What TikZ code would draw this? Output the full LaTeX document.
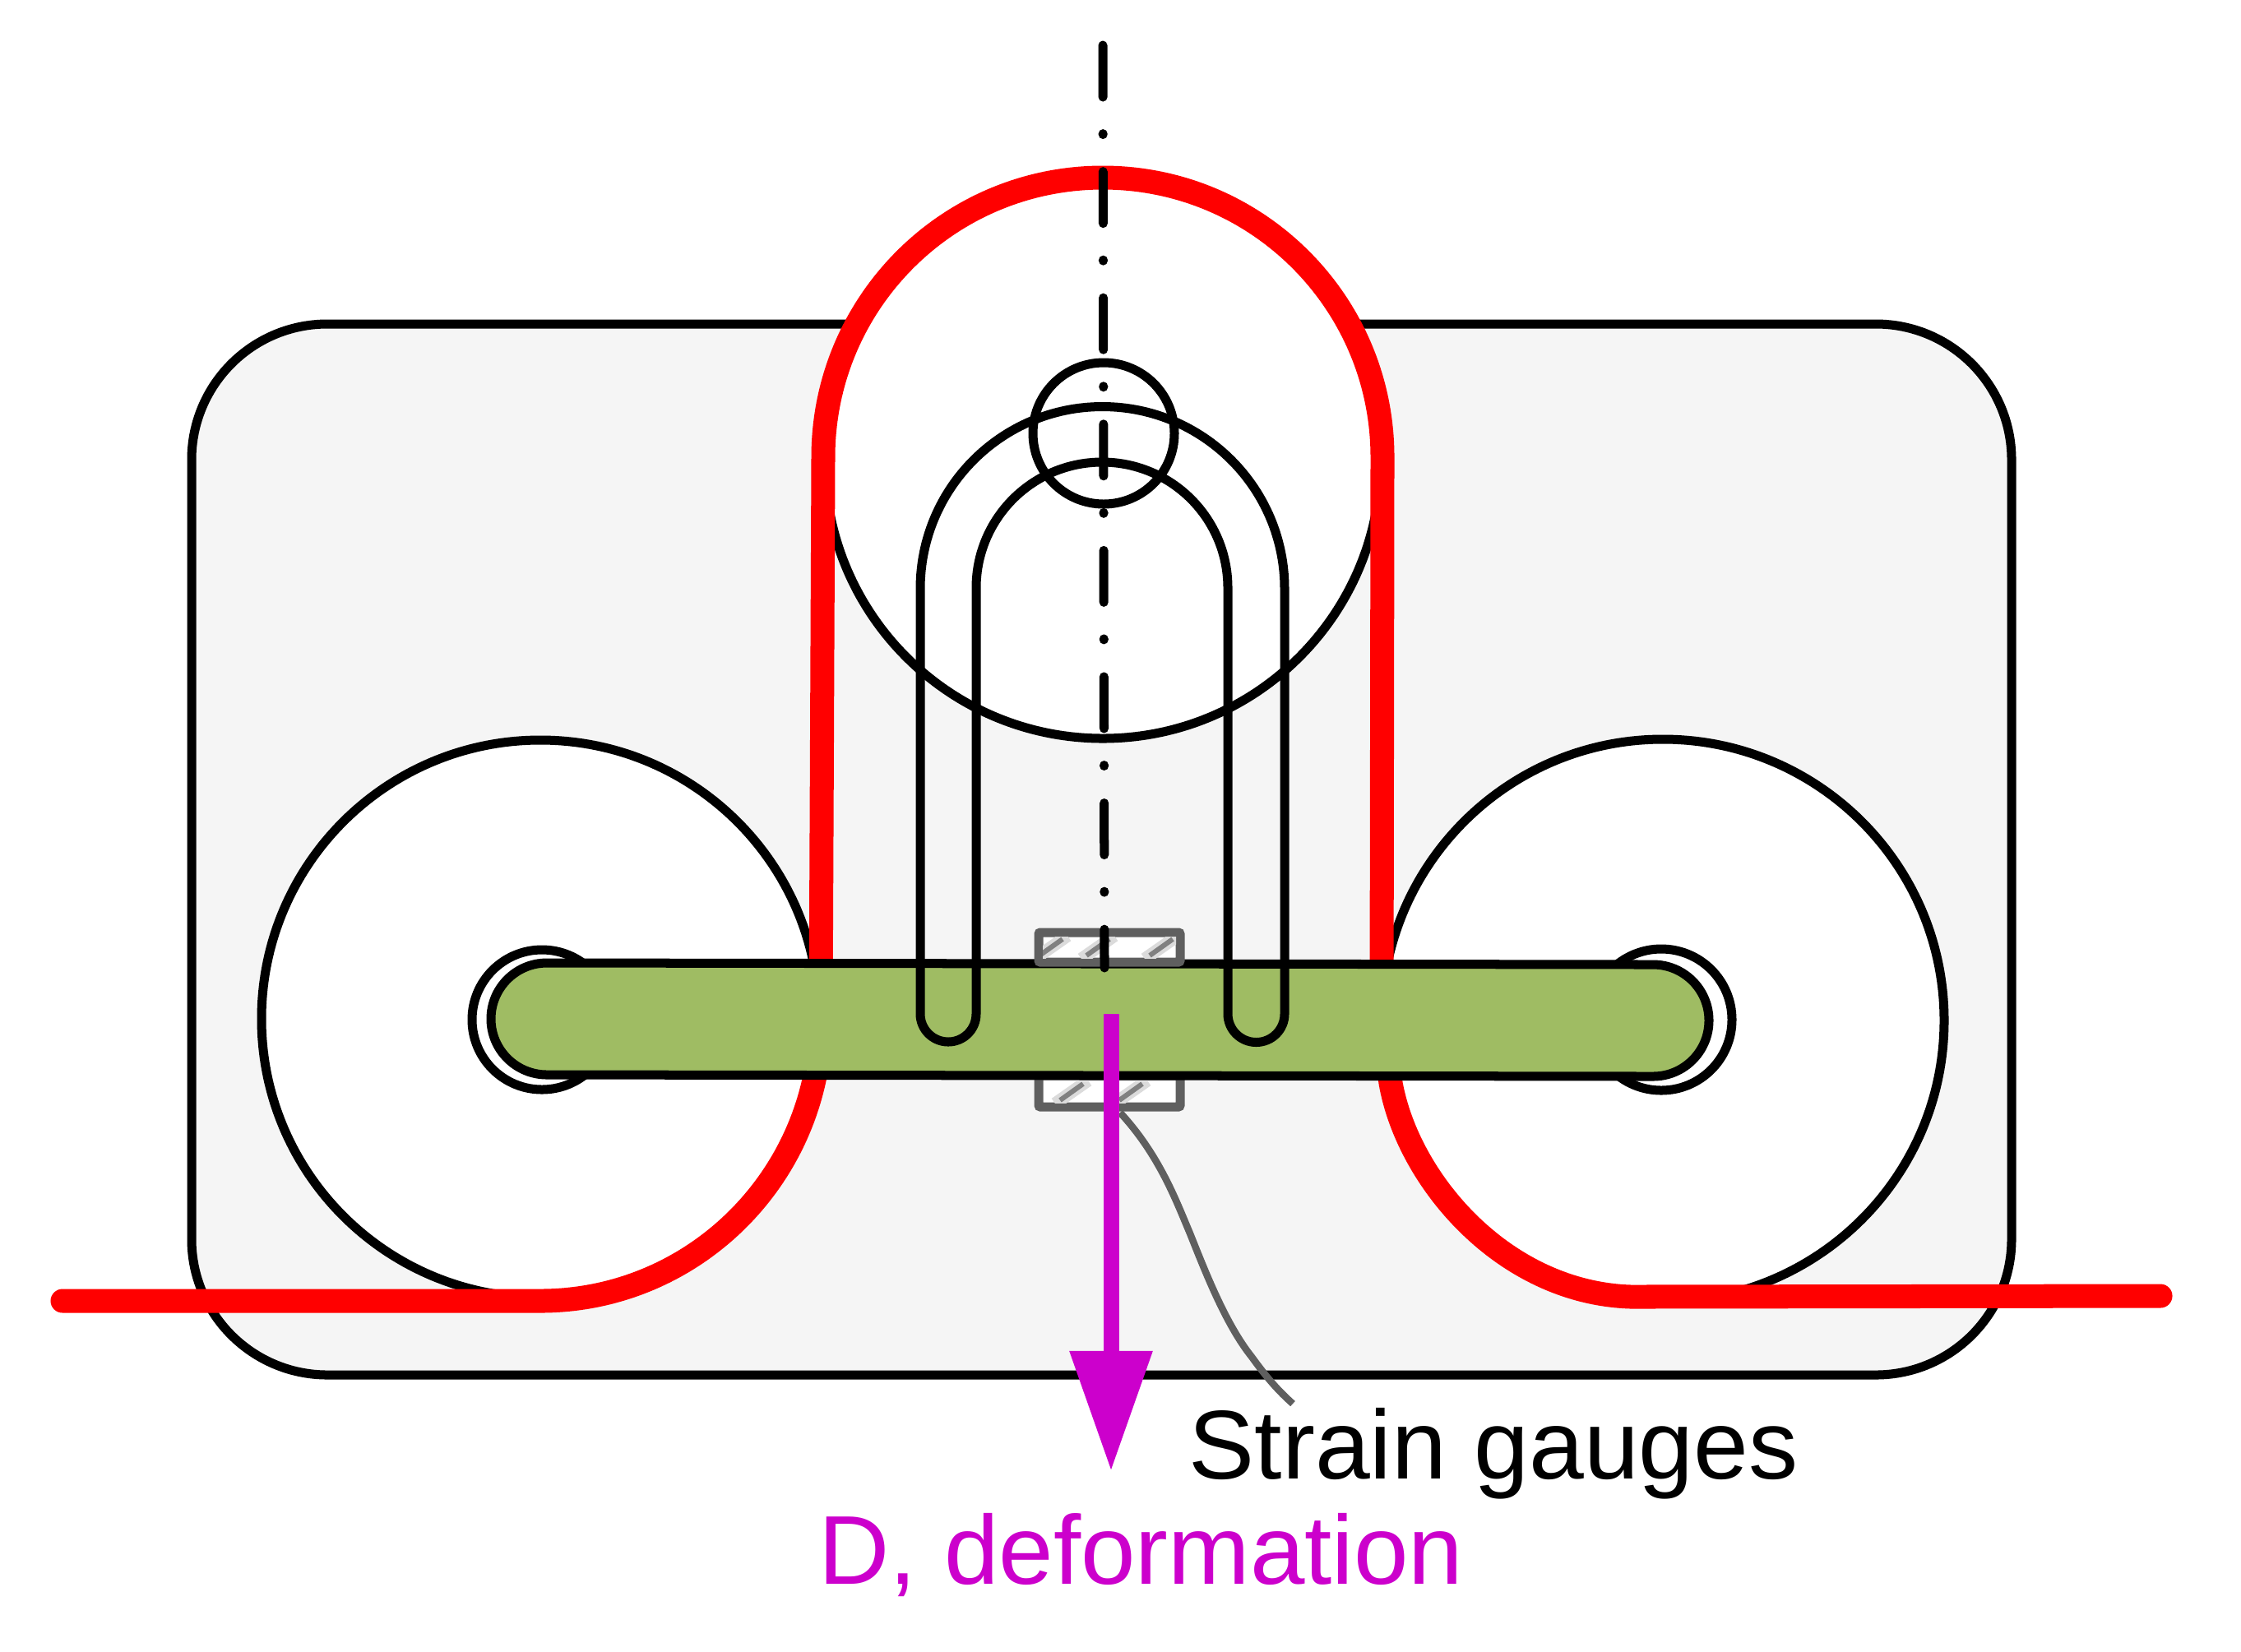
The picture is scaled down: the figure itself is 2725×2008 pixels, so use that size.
\documentclass[tikz,border=0pt]{standalone}
\usepackage{fontspec}
\setmainfont{Liberation Sans}
\usetikzlibrary{arrows.meta}
\definecolor{bggray}{HTML}{F5F5F5}
\definecolor{bargreen}{HTML}{9FBC63}
\definecolor{gaugegray}{HTML}{5F5F5F}
\definecolor{forcemag}{HTML}{CC00CC}
\definecolor{pureRed}{HTML}{FF0000}
\tikzset{
  blk/.style={draw=black,line width=0.11cm},
  pulley/.style={blk,fill=white},
  belt/.style={draw=pureRed,line width=0.29cm,line cap=round,line join=round},
  axisline/.style={draw=black,line width=0.11cm,dash pattern=on 0.63cm off 0.445cm on 0.01cm off 0.45cm,line cap=round},
  gauge/.style={draw=gaugegray,line width=0.11cm,fill=white,rounded corners=0.02cm},
  hatchA/.style={draw=black!14,line width=0.15cm},
  hatchB/.style={draw=black!50,line width=0.06cm},
  wire/.style={draw=gaugegray,line width=0.085cm},
  lbl/.style={font=\fontsize{33.8pt}{38pt}\selectfont,inner sep=0pt,anchor=base west}
}
\begin{document}
\begin{tikzpicture}[x=0.01cm,y=0.01cm,yscale=-1]
\useasboundingbox (0,0) rectangle (2725,2008);
\fill[white] (0,0) rectangle (2725,2008);
% housing
\draw[blk,fill=bggray,rounded corners=1.65cm] (233,394) rectangle (2446,1672);
% pulleys
\draw[pulley] (1341,560) circle[radius=338];
\draw[pulley] (657,1239) circle[radius=339];
\draw[pulley] (2022,1241) circle[radius=342];
\draw[pulley] (659,1240) circle[radius=85];
\draw[pulley] (2020,1240) circle[radius=86];
% belt
\draw[belt] (76,1582) -- (657,1582) arc (90:0:341 and 343) -- (1001,556)
  arc (180:360:340) -- (1680,1239) -- (1691,1317)
  .. controls (1712,1435) and (1828,1572) .. (1983,1577) -- (2627,1576);
% lower gauge, passes under the bar
\draw[gauge] (1263,1308) rectangle (1435,1346);
\begin{scope}
\clip (1268,1315) rectangle (1430,1341);
\foreach \h in {1303,1375}{
  \draw[hatchA] (\h-20,1342) -- (\h+20,1314);
  \draw[hatchB] (\h-14,1338) -- (\h+14,1318);
}
\end{scope}
% bar
\draw[blk,fill=bargreen] (665,1171) -- (2010,1173) arc (270:450:68) -- (665,1307) arc (90:270:68) -- cycle;
% upper gauge
\draw[gauge] (1263,1134) rectangle (1435,1170);
\begin{scope}
\clip (1268,1139) rectangle (1430,1165);
\foreach \h in {1278,1335,1412}{
  \draw[hatchA] (\h-20,1166) -- (\h+20,1138);
  \draw[hatchB] (\h-14,1162) -- (\h+14,1142);
}
\end{scope}
% U shaped hook
\draw[blk] (1187,1233) -- (1187,715) arc (180:360:153) -- (1493,1233)
  arc (180:0:34.5) -- (1562,716) arc (360:180:221.5) -- (1119,1233)
  arc (180:0:34) -- cycle;
\draw[blk] (1342,527) circle[radius=86];
% axis
\coordinate (axtop) at (1341,55);
\coordinate (axbot) at (1343,1177);
\draw[axisline] (axtop) -- (axbot);
% wire
\coordinate (wA) at (1362,1353);
\coordinate (wB) at (1572,1707);
\draw[wire] (wA) .. controls (1410,1405) and (1430,1460) .. (1447,1500)
  .. controls (1465,1545) and (1490,1610) .. (1522,1650)
  .. controls (1540,1675) and (1555,1692) .. (wB);
% arrow
\coordinate (aA) at (1351,1233);
\coordinate (aB) at (1351,1789);
\draw[draw=forcemag,line width=0.19cm,-{Triangle[length=1.46cm,width=0.96cm,fill=forcemag]}] (aA) -- (aB);
% labels
\node[lbl,text=black] (sg) at (1445,1798) {\scalebox{1.01}[1]{Strain gauges}};
\node[lbl,text=forcemag] (df) at (995,1926) {\scalebox{1.005}[1]{D, deformation}};
\end{tikzpicture}
\end{document}
